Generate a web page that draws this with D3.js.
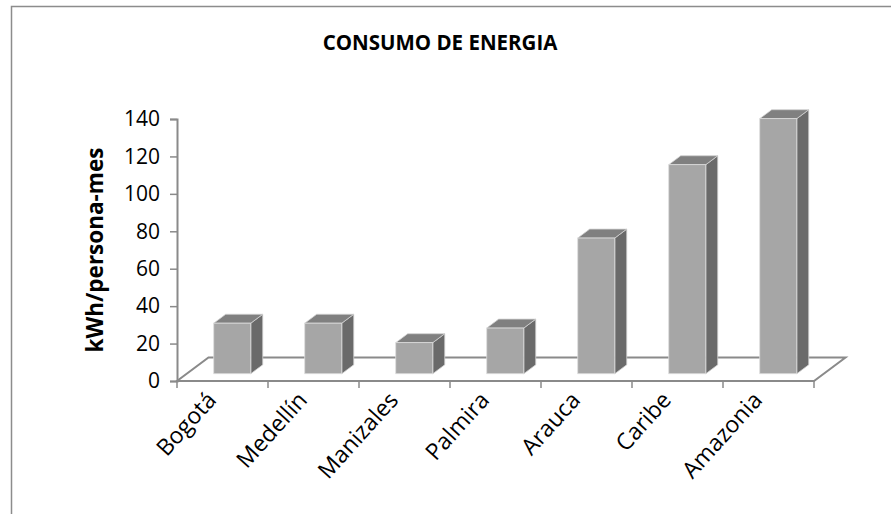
<!DOCTYPE html>
<html>
<head>
<meta charset="utf-8">
<script src="https://cdn.jsdelivr.net/npm/d3@7/dist/d3.min.js"></script>
<style>
  html, body { margin: 0; padding: 0; background: #fff; }
  svg { display: block; }
  text { font-family: "Open Sans", "Liberation Sans", sans-serif; fill: #000; }
</style>
</head>
<body>
<svg id="chart" width="891" height="514"></svg>
<script>
// ---- data ----
const categories = ["Bogotá", "Medellín", "Manizales", "Palmira", "Arauca", "Caribe", "Amazonia"];
const values = [27, 27, 16.6, 24.4, 72.5, 111.7, 136.3];
const yTicks = [0, 20, 40, 60, 80, 100, 120, 140];
const titleText = "CONSUMO DE ENERGIA";
const yAxisTitle = "kWh/persona-mes";

// ---- layout ----
const W = 891, H = 514;
const plot = { left: 177, right: 814, top: 119, bottom: 381 };
const depth = { dx: 31.5, dy: -23.5 };
const barDepth = [0.31, 0.69];
const axisColor = "#8a8a8a";

const svg = d3.select("#chart");
svg.append("rect").attr("width", W).attr("height", H).attr("fill", "#fff");

// chart border (left + top visible)
svg.append("path")
  .attr("d", `M11.5,${H} L11.5,6.5 L${W},6.5`)
  .attr("fill", "none").attr("stroke", "#8c8c8c").attr("stroke-width", 1.5);

// title
svg.append("text")
  .attr("x", 440).attr("y", 50)
  .attr("text-anchor", "middle")
  .attr("font-weight", "bold").attr("font-size", 20.5)
  .text(titleText);

// scales
const y = d3.scaleLinear().domain([0, 140]).range([plot.bottom, plot.top]);
const xb = d3.scaleBand().domain(categories).range([plot.left, plot.right]).padding(0);
const xBar = d3.scaleBand().domain(categories).range([plot.left, plot.right])
  .paddingInner(0.593).paddingOuter(0.2965);

// floor
const floorPts = [
  [plot.left, plot.bottom],
  [plot.right, plot.bottom],
  [plot.right + depth.dx, plot.bottom + depth.dy],
  [plot.left + depth.dx, plot.bottom + depth.dy]
];
svg.append("polygon")
  .attr("points", floorPts.map(p => p.join(",")).join(" "))
  .attr("fill", "#fff").attr("stroke", axisColor).attr("stroke-width", 2)
  .attr("stroke-linejoin", "miter");

// y axis
const yAxis = svg.append("g")
  .attr("transform", `translate(${plot.left},0)`)
  .call(d3.axisLeft(y).tickValues(yTicks).tickSize(7).tickPadding(10).tickFormat(d3.format("d")));
yAxis.select(".domain").attr("stroke", axisColor).attr("stroke-width", 2);
yAxis.selectAll(".tick line").attr("stroke", axisColor).attr("stroke-width", 1.5);
yAxis.selectAll(".tick text").attr("font-size", 21).attr("fill", "#000")
  .attr("font-family", "'Open Sans', 'Liberation Sans', sans-serif");

// x axis (front edge of floor) with ticks at category boundaries
const xAxisG = svg.append("g").attr("transform", `translate(0,${plot.bottom})`);
xAxisG.append("line")
  .attr("x1", plot.left).attr("x2", plot.right)
  .attr("stroke", axisColor).attr("stroke-width", 2);
const boundaries = categories.map(c => xb(c)).concat([xb(categories[categories.length - 1]) + xb.step()]);
xAxisG.selectAll(".bt").data(boundaries).join("line")
  .attr("x1", d => d).attr("x2", d => d).attr("y1", 0).attr("y2", 7)
  .attr("stroke", axisColor).attr("stroke-width", 1.5);

// x labels
svg.append("g").selectAll("text").data(categories).join("text")
  .attr("transform", c => `translate(${xb(c) + xb.step() / 2 - 5},${plot.bottom + 20}) rotate(-48)`)
  .attr("text-anchor", "end")
  .attr("font-size", 23)
  .text(c => c);

// y axis title
svg.append("text")
  .attr("transform", `translate(103,${(plot.top + plot.bottom) / 2}) rotate(-90)`)
  .attr("text-anchor", "middle")
  .attr("font-weight", "bold").attr("font-size", 22.5)
  .text(yAxisTitle);

// 3D bars
const f1 = barDepth[0], f2 = barDepth[1];
const ddx = (f2 - f1) * depth.dx, ddy = (f2 - f1) * depth.dy;
const data = categories.map((c, i) => ({ c, v: values[i] }));
const bars = svg.append("g").selectAll("g").data(data).join("g");
bars.each(function (d) {
  const g = d3.select(this);
  const x0 = xBar(d.c) + f1 * depth.dx;
  const x1 = x0 + xBar.bandwidth();
  const yb = y(0) + f1 * depth.dy;
  const yt = y(d.v) + f1 * depth.dy;
  const poly = pts => pts.map(p => p.join(",")).join(" ");
  // side
  g.append("polygon")
    .attr("points", poly([[x1, yb], [x1 + ddx, yb + ddy], [x1 + ddx, yt + ddy], [x1, yt]]))
    .attr("fill", "#6a6a6a").attr("stroke", "#d0d0d0").attr("stroke-width", 0.8);
  // top
  g.append("polygon")
    .attr("points", poly([[x0, yt], [x1, yt], [x1 + ddx, yt + ddy], [x0 + ddx, yt + ddy]]))
    .attr("fill", "#808080").attr("stroke", "#d0d0d0").attr("stroke-width", 0.8);
  // front
  g.append("rect")
    .attr("x", x0).attr("y", yt).attr("width", x1 - x0).attr("height", yb - yt)
    .attr("fill", "#a6a6a6").attr("stroke", "#dcdcdc").attr("stroke-width", 0.8);
});
</script>
</body>
</html>
